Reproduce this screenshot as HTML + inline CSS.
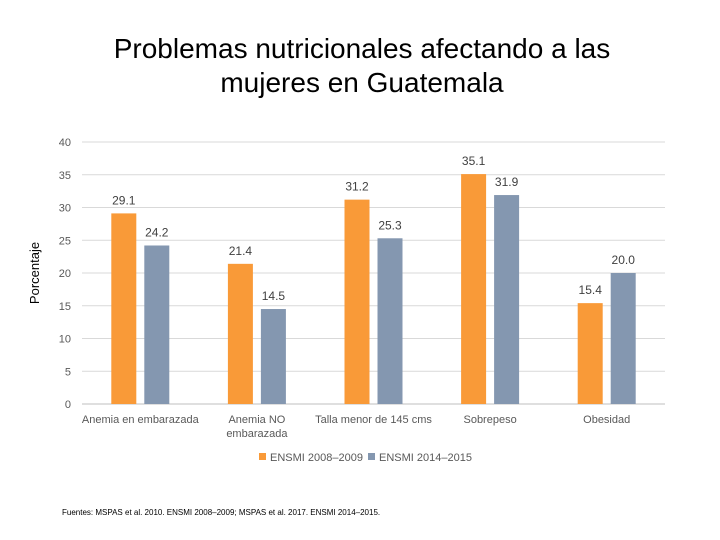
<!DOCTYPE html>
<html><head><meta charset="utf-8"><style>
body{margin:0;background:#fff;}
svg{display:block;font-family:"Liberation Sans",sans-serif;}
</style></head><body>
<svg id="c" width="720" height="540">
<text x="362" y="58" text-anchor="middle" font-size="28" fill="#000">Problemas nutricionales afectando a las</text>
<text x="362" y="92" text-anchor="middle" font-size="28" fill="#000">mujeres en Guatemala</text>
<text transform="translate(39,273) rotate(-90)" text-anchor="middle" font-size="13" fill="#000">Porcentaje</text>
<g id="grid"></g><g id="bars"></g>
<g>
<rect x="259" y="453" width="7" height="7" fill="#F99A38"/>
<text x="270" y="461" font-size="11" fill="#595959">ENSMI 2008–2009</text>
<rect x="368" y="453" width="7" height="7" fill="#8497B0"/>
<text x="379" y="461" font-size="11" fill="#595959">ENSMI 2014–2015</text>
</g>
<text x="62" y="515" font-size="8" fill="#000">Fuentes: MSPAS et al. 2010. ENSMI 2008–2009; MSPAS et al. 2017. ENSMI 2014–2015.</text>
</svg>
<script>
const categories=[["Anemia en embarazada"],["Anemia NO","embarazada"],["Talla menor de 145 cms"],["Sobrepeso"],["Obesidad"]];
const series2008=[29.1,21.4,31.2,35.1,15.4];
const series2014=[24.2,14.5,25.3,31.9,20.0];
const ticks=[0,5,10,15,20,25,30,35,40];
const NS="http://www.w3.org/2000/svg";
const x0=82,x1=665,yTop=142,yBot=404,ymax=40;
const y=v=>yBot-(v/ymax)*(yBot-yTop);
const bw=(x1-x0)/categories.length;
const cx=i=>x0+bw*(i+0.5);
function mk(t,a,p){const e=document.createElementNS(NS,t);for(const k in a)e.setAttribute(k,a[k]);p.appendChild(e);return e;}
const g=document.getElementById('grid'),b=document.getElementById('bars');
ticks.forEach(t=>{
 const l=mk('line',{x1:x0,x2:x1,y1:y(t),y2:y(t),stroke:t===0?'#bfbfbf':'#d9d9d9','stroke-width':1},g);
 
 
 const tx=mk('text',{x:71,y:y(t)+4,'text-anchor':'end','font-size':11,fill:'#595959'},g);
 tx.textContent=t;
 
 
});
categories.forEach((c,i)=>{
 [[series2008,'#F99A38',-29,'2008'],[series2014,'#8497B0',4,'2014']].forEach(([s,col,off,nm])=>{
  const v=s[i];
  const r=mk('rect',{x:cx(i)+off,y:y(v),width:25,height:yBot-y(v),fill:col},b);
  
  
  const t=mk('text',{x:cx(i)+off+12.5,y:y(v)-9,'text-anchor':'middle','font-size':12,fill:'#404040'},b);
  t.textContent=v.toFixed(1);
  
  
 });
 c.forEach((line,j)=>{
  const t=mk('text',{x:cx(i),y:423+j*14,'text-anchor':'middle','font-size':11,fill:'#595959'},b);
  t.textContent=line;
  
  
 });
});
</script>
</body></html>
